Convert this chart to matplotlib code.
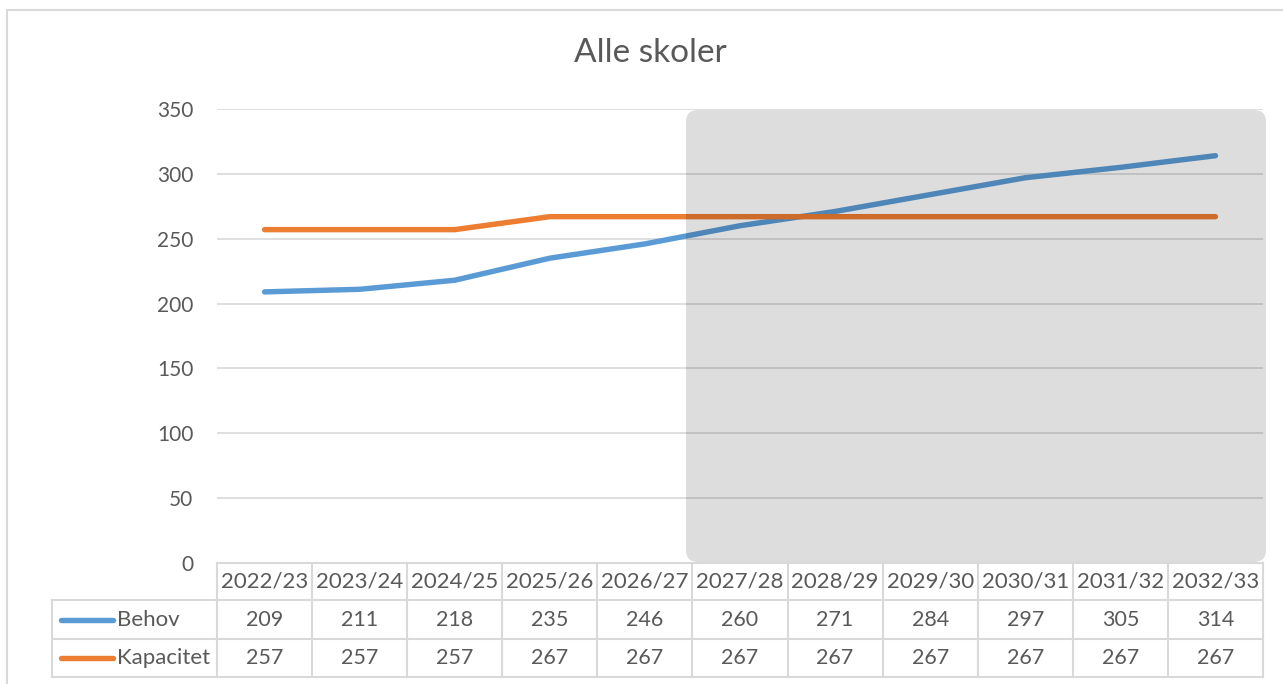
import matplotlib
matplotlib.use("Agg")
import matplotlib.pyplot as plt
from matplotlib.patches import FancyBboxPatch, Rectangle
from matplotlib.lines import Line2D
from matplotlib.transforms import IdentityTransform

years = ["2022/23", "2023/24", "2024/25", "2025/26", "2026/27", "2027/28",
         "2028/29", "2029/30", "2030/31", "2031/32", "2032/33"]
behov = [209, 211, 218, 235, 246, 260, 271, 284, 297, 305, 314]
kapacitet = [257, 257, 257, 267, 267, 267, 267, 267, 267, 267, 267]
series_names = ["Behov", "Kapacitet"]
yticks = [0, 50, 100, 150, 200, 250, 300, 350]

BLUE = "#5B9BD5"
ORANGE = "#ED7D31"
TXT = "#595959"
GRID = "#D9D9D9"

plt.rcParams['font.family'] = ['Lato', 'DejaVu Sans']

W, H = 1283, 684
fig = plt.figure(figsize=(W / 100, H / 100), dpi=100)

L, R, T, B = 217, 1263, 109, 563
ax = fig.add_axes([L / W, (H - B) / H, (R - L) / W, (B - T) / H])
ax.set_xlim(-0.5, len(years) - 0.5)
ax.set_ylim(0, 350)
for s in ax.spines.values():
    s.set_visible(False)
ax.set_yticks(yticks)
ax.set_yticklabels([str(v) for v in yticks], fontsize=15, color=TXT)
ax.tick_params(axis='y', length=0, pad=17)
ax.set_xticks([])
ax.grid(axis='y', color=GRID, linewidth=1.2)
ax.set_axisbelow(True)

x = list(range(len(years)))
ax.plot(x, behov, color=BLUE, linewidth=3.9, solid_capstyle='round', solid_joinstyle='round', zorder=3)
ax.plot(x, kapacitet, color=ORANGE, linewidth=3.9, solid_capstyle='round', solid_joinstyle='round', zorder=3)

# title
fig.text(650 / W, 1 - 53 / H, "Alle skoler", ha='center', va='center', fontsize=24, color=TXT)

# outer border
fig.patches.append(Rectangle((7, -10), 1300, H - 10 + 10, transform=IdentityTransform(),
                             fill=False, edgecolor=GRID, linewidth=1.5, figure=fig))

# shaded overlay
fig.patches.append(FancyBboxPatch((686 + 12, H - 562 + 12), 1266 - 686 - 24, 562 - 110 - 24,
                                  boxstyle="round,pad=12", transform=IdentityTransform(),
                                  facecolor="black", alpha=0.135, edgecolor='none',
                                  figure=fig, zorder=5))

# data table
def ay(py):
    return (B - py) / (B - T)

def axx(px):
    return (px - L) / (R - L)

xt = ax.get_xaxis_transform()
lc = dict(color=GRID, linewidth=1.5, clip_on=False)

# horizontal lines
ax.add_line(Line2D([-0.5, len(years) - 0.5], [ay(563)] * 2, transform=xt, **lc))
for py in [600, 639, 677]:
    ax.add_line(Line2D([axx(52), 1.0], [ay(py)] * 2, transform=ax.transAxes, **lc))
# vertical lines
for i in range(len(years) + 1):
    ax.add_line(Line2D([i - 0.5, i - 0.5], [ay(563), ay(677)], transform=xt, **lc))
ax.add_line(Line2D([axx(52), axx(52)], [ay(600), ay(677)], transform=ax.transAxes, **lc))

for i, yr in enumerate(years):
    ax.text(i, ay(581.5), yr, transform=xt, ha='center', va='center', fontsize=16, color=TXT)
    ax.text(i, ay(620), str(behov[i]), transform=xt, ha='center', va='center', fontsize=15.5, color=TXT)
    ax.text(i, ay(658), str(kapacitet[i]), transform=xt, ha='center', va='center', fontsize=15.5, color=TXT)

for name, col, py in zip(series_names, [BLUE, ORANGE], [620, 658]):
    ax.add_line(Line2D([axx(61), axx(113)], [ay(py)] * 2, transform=ax.transAxes, color=col,
                       linewidth=3.9, solid_capstyle='round', clip_on=False))
    ax.text(axx(117), ay(py), name, transform=ax.transAxes, ha='left', va='center',
            fontsize=16, color=TXT)

fig.savefig("out.png", dpi=100)
